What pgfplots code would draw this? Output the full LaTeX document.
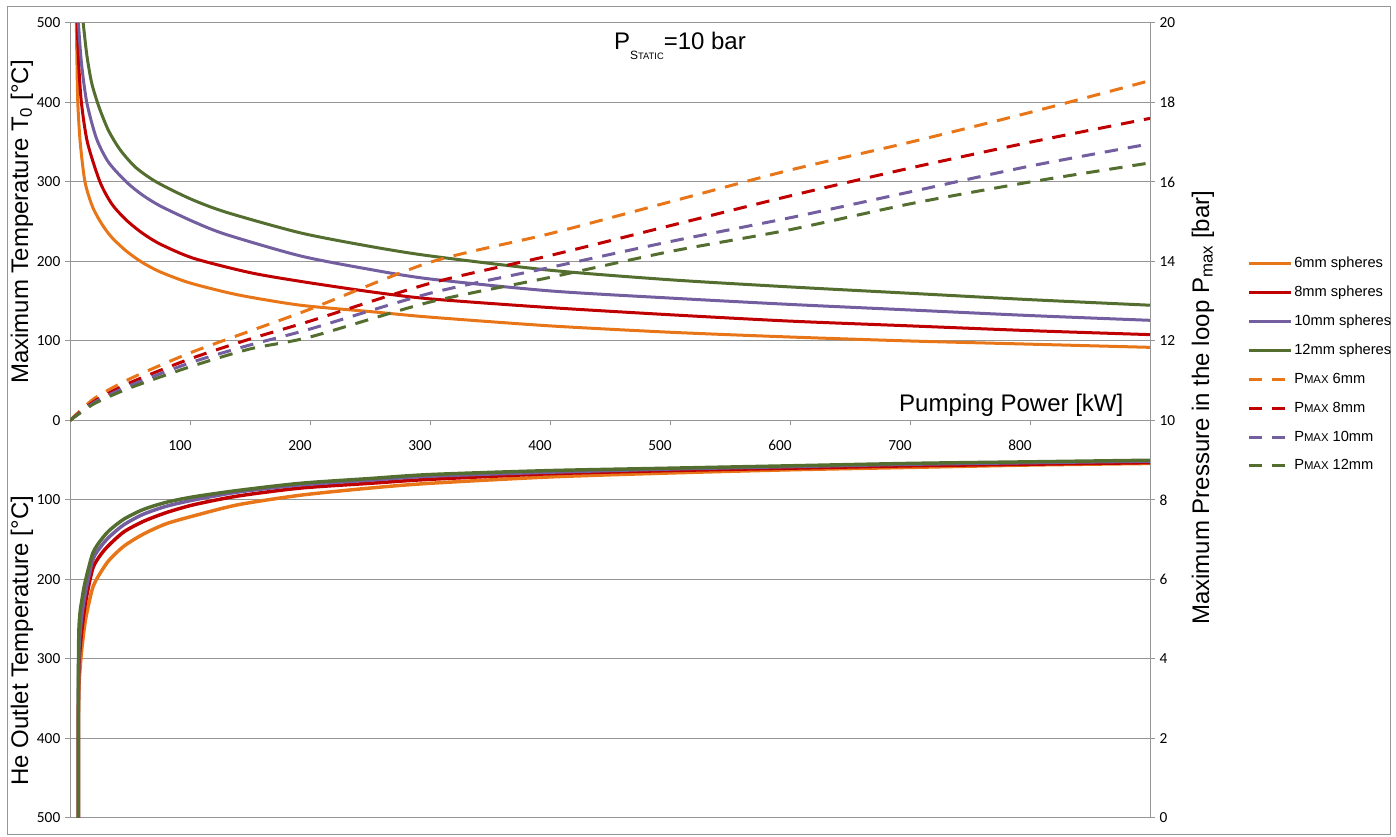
\documentclass[border=0pt]{standalone}
\usepackage{pgfplots}
\pgfplotsset{compat=1.18}
\usepackage{fontspec}
\setmainfont{Liberation Sans}
\newfontfamily\carlito{Carlito}
\definecolor{cOr}{RGB}{232,118,24}
\definecolor{cRd}{RGB}{192,0,0}
\definecolor{cPu}{RGB}{115,94,160}
\definecolor{cGn}{RGB}{84,110,48}
\definecolor{cGrid}{RGB}{150,150,150}
\begin{document}
\begin{tikzpicture}
\path[use as bounding box] (-52.5pt,-14.25pt) rectangle (994.5pt,613.5pt);
\draw[cGrid, line width=0.75pt] (-46.5pt,-12.75pt) rectangle (990pt,608.25pt);
\begin{axis}[
  width=810pt, height=596.25pt, scale only axis,
  xmin=0, xmax=900, ymin=-500, ymax=500,
  axis x line=middle, axis y line=left,
  axis line style={-, draw=cGrid, line width=0.75pt},
  xtick={100,200,...,800},
  ytick={-500,-400,...,500},
  yticklabels={500,400,300,200,100,0,100,200,300,400,500},
  ymajorgrids, grid style={cGrid, line width=0.75pt},
  tick style={cGrid, line width=0.75pt},
  major tick length=3.75pt,
  tick align=outside,
  xticklabel style={anchor=center, xshift=-7.5pt, yshift=-15pt},
  tick label style={font=\carlito\fontsize{11.5}{13}\selectfont, text=black},
  /pgf/number format/assume math mode=true,
  every axis plot/.append style={smooth, tension=0.45},
]
% Maximum temperature T0 (upper half)
\addplot[cOr, line width=2.25pt] coordinates {(5.3,500)(5.8,450)(6.5,400)(8.5,350)(12.5,300)(19,268)(27,246)(35,230)(47,213)(60,199)(75,187)(100,173)(140,158)(192,145)(250,137)(300,130)(400,119)(500,111)(600,105)(700,100)(800,96)(900,92)};
\addplot[cRd, line width=2.25pt] coordinates {(6,500)(7.2,450)(9.5,400)(14.5,350)(25,300)(35,272)(47,252)(60,236)(75,222)(103,204)(150,186)(192,175)(250,162)(300,153)(400,142)(500,133)(600,125)(700,119)(800,113)(900,108)};
\addplot[cPu, line width=2.25pt] coordinates {(7,500)(9.5,450)(14,400)(22,355)(32,325)(47,300)(60,284)(75,270)(103,250)(130,234)(192,207)(250,190)(300,178)(400,163)(500,154)(600,146)(700,139)(800,132)(900,126)};
\addplot[cGn, line width=2.25pt] coordinates {(11,500)(14,460)(18,425)(24,395)(32,365)(42,340)(55,318)(72,300)(100,279)(130,262)(192,236)(250,219)(300,207)(400,189)(500,177)(600,168)(700,160)(800,152)(900,145)};
% He outlet temperature (lower half, drawn downward)
\addplot[cOr, line width=2.6pt] coordinates {(7,-500)(7,-400)(7.3,-340)(8.5,-310)(10,-285)(13,-250)(19,-210)(26,-190)(33,-175)(45,-158)(61,-143)(80,-130)(103,-120)(140,-106)(192,-94)(250,-85)(300,-79)(400,-71)(500,-66)(600,-62)(700,-59)(800,-56)(900,-54)};
\addplot[cRd, line width=2.6pt] coordinates {(7,-500)(7,-380)(7.4,-310)(8.5,-285)(10,-262)(13,-228)(19,-186)(26,-168)(33,-156)(45,-140)(61,-127)(80,-116)(103,-106)(140,-95)(192,-85)(250,-79)(300,-74)(400,-67)(500,-63)(600,-60)(700,-57)(800,-55)(900,-53)};
\addplot[cPu, line width=2.6pt] coordinates {(7,-500)(7,-360)(7.4,-290)(8.5,-265)(10,-243)(13,-215)(19,-175)(26,-158)(33,-146)(45,-131)(61,-118)(80,-108)(103,-100)(140,-90)(192,-81)(250,-75)(300,-70)(400,-65)(500,-61)(600,-58)(700,-55)(800,-53)(900,-51)};
\addplot[cGn, line width=2.6pt] coordinates {(7,-500)(7,-330)(7.4,-265)(8.5,-240)(10,-225)(12.5,-204)(19,-167)(26,-150)(33,-138)(45,-124)(61,-112)(80,-103)(103,-96)(140,-88)(192,-79)(250,-73)(300,-68)(400,-63)(500,-60)(600,-57)(700,-54)(800,-52)(900,-50)};
\end{axis}
\begin{axis}[
  width=810pt, height=596.25pt, scale only axis,
  xmin=0, xmax=900, ymin=0, ymax=20,
  axis x line=none, axis y line*=right,
  axis line style={-, draw=cGrid, line width=0.75pt},
  ytick={0,2,...,20},
  tick style={cGrid, line width=0.75pt},
  major tick length=3.75pt,
  tick align=outside,
  tick label style={font=\carlito\fontsize{11.5}{13}\selectfont, text=black},
  /pgf/number format/assume math mode=true,
  ylabel={Maximum Pressure in the loop P\textsubscript{max} [bar]},
  ylabel style={font=\fontsize{18}{20}\selectfont, at={(rel axis cs:1.0491,0.516)}, anchor=center},
  legend image code/.code={\draw[#1] (0pt,0pt) -- (32pt,0pt);},
  legend cell align=left,
  legend style={at={(rel axis cs:1.0898,0.708)}, anchor=north west, draw=none, fill=none,
    font=\fontsize{11}{13}\selectfont, row sep=10.4pt, inner sep=0pt, nodes={inner sep=1pt}},
  every axis plot/.append style={smooth, tension=0.45},
]
\addlegendimage{cOr, line width=2.25pt}\addlegendentry{6mm spheres}
\addlegendimage{cRd, line width=2.25pt}\addlegendentry{8mm spheres}
\addlegendimage{cPu, line width=2.25pt}\addlegendentry{10mm spheres}
\addlegendimage{cGn, line width=2.25pt}\addlegendentry{12mm spheres}
\addplot[cOr, line width=2.25pt, dash pattern=on 10pt off 7.5pt] coordinates {(0,10)(20,10.55)(50,11.05)(100,11.7)(150,12.25)(200,12.8)(300,13.98)(400,14.7)(500,15.5)(600,16.3)(700,17.0)(800,17.75)(900,18.55)};
\addlegendentry{P{\fontsize{8.5}{9}\selectfont MAX} 6mm}
\addplot[cRd, line width=2.25pt, dash pattern=on 10pt off 7.5pt] coordinates {(0,10)(20,10.48)(50,10.95)(100,11.55)(150,12.05)(200,12.5)(300,13.45)(400,14.15)(500,14.9)(600,15.65)(700,16.35)(800,17.0)(900,17.6)};
\addlegendentry{P{\fontsize{8.5}{9}\selectfont MAX} 8mm}
\addplot[cPu, line width=2.25pt, dash pattern=on 10pt off 7.5pt] coordinates {(0,10)(20,10.45)(50,10.88)(100,11.45)(150,11.9)(200,12.3)(300,13.2)(400,13.85)(500,14.5)(600,15.1)(700,15.75)(800,16.4)(900,16.96)};
\addlegendentry{P{\fontsize{8.5}{9}\selectfont MAX} 10mm}
\addplot[cGn, line width=2.25pt, dash pattern=on 10pt off 7.5pt] coordinates {(0,10)(20,10.42)(50,10.82)(100,11.35)(150,11.8)(200,12.1)(300,12.98)(400,13.6)(500,14.25)(600,14.8)(700,15.45)(800,16.0)(900,16.48)};
\addlegendentry{P{\fontsize{8.5}{9}\selectfont MAX} 12mm}
\end{axis}
\node[font=\fontsize{18}{20}\selectfont] at (457.5pt,579pt) {P\raisebox{-0.4em}{\fontsize{9}{9}\selectfont S\fontsize{7}{7}\selectfont TATIC}=10 bar};
\node[font=\fontsize{18}{20}\selectfont, anchor=east] at (793.5pt,309.75pt) {Pumping Power [kW]};
\node[font=\fontsize{18}{20}\selectfont, rotate=90] at (-36pt,447pt) {Maximum Temperature T\textsubscript{0} [°C]};
\node[font=\fontsize{18}{20}\selectfont, rotate=90] at (-36pt,133pt) {He Outlet Temperature [°C]};
\end{tikzpicture}
\end{document}
